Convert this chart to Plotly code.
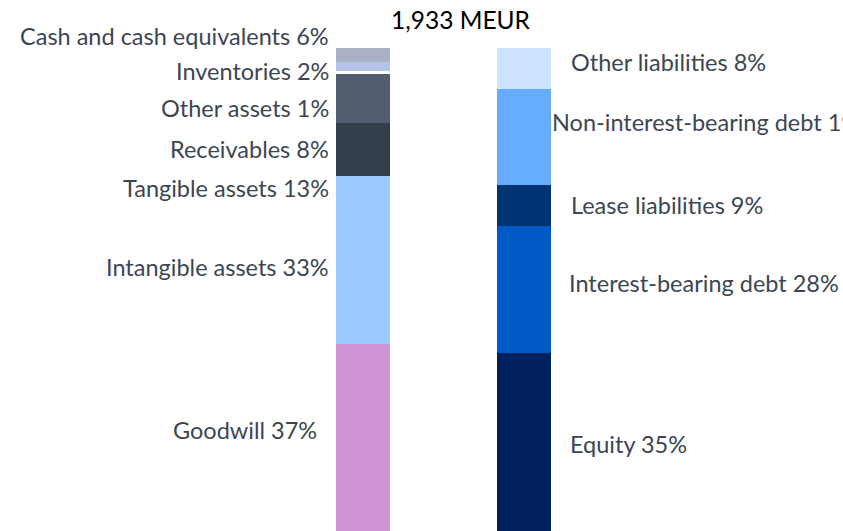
import plotly.graph_objects as go

# Data (MEUR)
asset_labels = ["Goodwill 37%", "Intangible assets 33%", "Tangible assets 13%", "Receivables 8%",
                "Other assets 1%", "Inventories 2%", "Cash and cash equivalents 6%"]
asset_values = [749, 672, 212, 196, 12, 36, 56]
asset_colors = ["#d094d6", "#99c9ff", "#343e4a", "#525d70", "#ffffff", "#b4c4e8", "#a9b0c4"]

liab_labels = ["Equity 35%", "Interest-bearing debt 28%", "Lease liabilities 9%",
               "Non-interest-bearing debt 19%", "Other liabilities 8%"]
liab_values = [713, 508, 164, 384, 164]
liab_colors = ["#00205e", "#005ac6", "#003473", "#66adff", "#cce3ff"]

total_label = "1,933 MEUR"
total = 1933

W, H = 843, 531
TOP = 48
plot_h = H - TOP

fig = go.Figure()
for lab, v, c in zip(asset_labels, asset_values, asset_colors):
    fig.add_trace(go.Bar(x=[0], y=[v], name=lab, width=0.336, marker=dict(color=c, line=dict(width=0)),
                         hoverinfo="skip"))
for lab, v, c in zip(liab_labels, liab_values, liab_colors):
    fig.add_trace(go.Bar(x=[1], y=[v], name=lab, width=0.336, marker=dict(color=c, line=dict(width=0)),
                         hoverinfo="skip"))

font_family = "Lato, 'Open Sans', sans-serif"
txt_color = "#3c4653"
FS = 23.5

def py(ypix):
    return (H - ypix) / plot_h

def px(xpix):
    return xpix / W

annotations = []
left_pos = {  # label: (right edge x pixel, y centre pixel)
    "Cash and cash equivalents 6%": (331, 36),
    "Inventories 2%": (331, 71),
    "Other assets 1%": (331, 108),
    "Receivables 8%": (331, 149),
    "Tangible assets 13%": (331, 188),
    "Intangible assets 33%": (331, 267),
    "Goodwill 37%": (319, 430),
}
for lab in asset_labels:
    xr, yc = left_pos[lab]
    annotations.append(dict(text=lab, x=px(xr), y=py(yc), xref="paper", yref="paper",
                            xanchor="right", yanchor="middle", showarrow=False,
                            font=dict(family=font_family, size=FS, color=txt_color)))
right_pos = {
    "Other liabilities 8%": (569, 62),
    "Non-interest-bearing debt 19%": (550, 122),
    "Lease liabilities 9%": (569, 205),
    "Interest-bearing debt 28%": (567, 283),
    "Equity 35%": (568, 444),
}
for lab in liab_labels:
    xl, yc = right_pos[lab]
    annotations.append(dict(text=lab, x=px(xl), y=py(yc), xref="paper", yref="paper",
                            xanchor="left", yanchor="middle", showarrow=False,
                            font=dict(family=font_family, size=FS, color=txt_color)))
annotations.append(dict(text=total_label, x=px(461), y=py(20), xref="paper", yref="paper",
                        xanchor="center", yanchor="middle", showarrow=False,
                        font=dict(family=font_family, size=24.5, color="#000000")))

unit = 161.0
x0 = 0 - 363 / unit
x1 = 1 + (W - 524) / unit

fig.update_layout(
    width=W, height=H,
    barmode="stack",
    showlegend=False,
    margin=dict(l=0, r=0, t=TOP, b=0, pad=0),
    paper_bgcolor="white", plot_bgcolor="white",
    xaxis=dict(visible=False, range=[x0, x1], fixedrange=True),
    yaxis=dict(visible=False, range=[0, total], fixedrange=True),
    annotations=annotations,
)

fig.write_html("out.html", config={"displayModeBar": False},
               post_script="document.body.style.margin='0';document.body.style.overflow='hidden';")
